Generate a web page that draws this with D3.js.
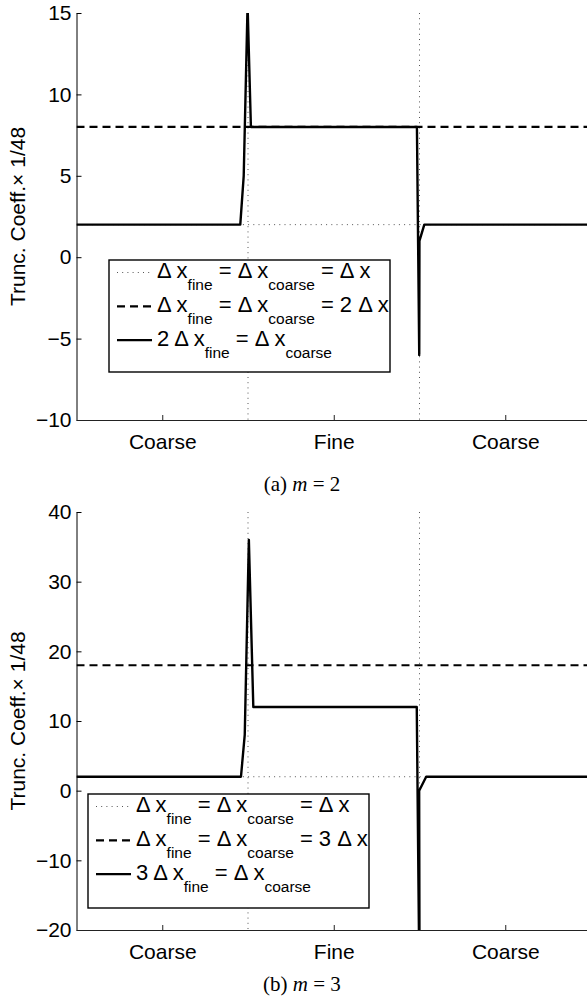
<!DOCTYPE html>
<html>
<head>
<meta charset="utf-8">
<script src="https://cdn.jsdelivr.net/npm/d3@7"></script>
<style>
  body { margin: 0; background: #fff; }
  text { font-family: "Liberation Sans", Arial, sans-serif; }
</style>
</head>
<body>
<svg id="chart" width="587" height="996"></svg>
<script>
// x is in "region" units: coarse [0,1], fine [1,2], coarse [2,3]
const xTickPos = [0.5, 1.5, 2.5];
const xTickLabels = ["Coarse", "Fine", "Coarse"];
const regionBounds = [1, 2];

// panel (a) m = 2
const yTicksA = [-10, -5, 0, 5, 10, 15];
const dottedLevelA = 2;
const dashedLevelA = 8;
const solidXA = [0, 0.955, 0.975, 0.9975, 1.017, 1.985, 1.9985, 1.9997, 2.028, 3];
const solidYA = [2, 2, 5, 15.5, 8, 8, -6, 1, 2, 2];
const legendA = [
  [["Δ x"], ["fine", 1], [" = Δ x"], ["coarse", 1], [" = Δ x"]],
  [["Δ x"], ["fine", 1], [" = Δ x"], ["coarse", 1], [" = 2 Δ x"]],
  [["2 Δ x"], ["fine", 1], [" = Δ x"], ["coarse", 1]]
];

// panel (b) m = 3
const yTicksB = [-20, -10, 0, 10, 20, 30, 40];
const dottedLevelB = 2;
const dashedLevelB = 18;
const solidXB = [0, 0.959, 0.981, 1.005, 1.031, 1.984, 2.0005, 1.998, 2.039, 3];
const solidYB = [2, 2, 8, 36, 12, 12, -30, 0, 2, 2];
const legendB = [
  [["Δ x"], ["fine", 1], [" = Δ x"], ["coarse", 1], [" = Δ x"]],
  [["Δ x"], ["fine", 1], [" = Δ x"], ["coarse", 1], [" = 3 Δ x"]],
  [["3 Δ x"], ["fine", 1], [" = Δ x"], ["coarse", 1]]
];

const svg = d3.select("#chart");
const styles = [
  { dash: "1,4.2", width: 1, color: "#555" },   // dotted
  { dash: "8,5", width: 2.2, color: "#000" },   // dashed
  { dash: null, width: 2.4, color: "#000" }     // solid
];

function drawPanel(p) {
  const x = d3.scaleLinear().domain([0, 3]).range([76.5, 591]);
  const y = d3.scaleLinear().domain(p.yDomain).range([p.bottom, p.top]);
  const g = svg.append("g");

  g.append("clipPath").attr("id", p.id)
    .append("rect")
    .attr("x", x(0)).attr("y", p.top)
    .attr("width", x(3) - x(0)).attr("height", p.bottom - p.top);

  const plot = g.append("g").attr("clip-path", `url(#${p.id})`);

  // region boundaries
  plot.selectAll(".bound").data(regionBounds).join("line")
    .attr("x1", d => x(d)).attr("x2", d => x(d))
    .attr("y1", p.top).attr("y2", p.bottom)
    .attr("stroke", styles[0].color).attr("stroke-width", 1)
    .attr("stroke-dasharray", styles[0].dash);

  const line = d3.line().x(d => x(d[0])).y(d => y(d[1]));

  // dotted: same spacing everywhere
  plot.append("path").datum([[0, p.dotted], [3, p.dotted]])
    .attr("d", line).attr("fill", "none")
    .attr("stroke", styles[0].color).attr("stroke-width", styles[0].width)
    .attr("stroke-dasharray", styles[0].dash);

  // dashed: same (doubled/tripled) spacing everywhere
  plot.append("path").datum([[0, p.dashed], [3, p.dashed]])
    .attr("d", line).attr("fill", "none")
    .attr("stroke", styles[1].color).attr("stroke-width", styles[1].width)
    .attr("stroke-dasharray", styles[1].dash);

  // solid: refined middle region
  plot.append("path").datum(p.solidX.map((v, i) => [v, p.solidY[i]]))
    .attr("d", line).attr("fill", "none")
    .attr("stroke", styles[2].color).attr("stroke-width", styles[2].width)
    .attr("stroke-linejoin", "round");

  // axes
  const ya = g.append("g").attr("transform", `translate(${x(0)},0)`)
    .call(d3.axisLeft(y).tickValues(p.yTicks).tickSize(-5).tickSizeOuter(0).tickPadding(5));
  ya.attr("font-size", 21);
  ya.select(".domain").attr("stroke", "#000");
  ya.selectAll(".tick line").attr("stroke", "#000");

  const xa = g.append("g").attr("transform", `translate(0,${p.bottom})`)
    .call(d3.axisBottom(x).tickValues(xTickPos).tickFormat((d, i) => xTickLabels[i])
      .tickSize(-5).tickSizeOuter(0).tickPadding(14));
  xa.attr("font-size", 21);
  xa.select(".domain").attr("stroke", "#222");
  xa.selectAll(".tick line").attr("stroke", "#222");

  // y label
  g.append("text")
    .attr("transform", `translate(25,${(p.top + p.bottom) / 2}) rotate(-90)`)
    .attr("text-anchor", "middle").attr("font-size", 21)
    .text("Trunc. Coeff.× 1/48");

  // legend
  const lg = g.append("g").attr("transform", `translate(${p.legX},${p.legY})`);
  lg.append("rect").attr("width", 281).attr("height", p.legH)
    .attr("fill", "#fff").attr("stroke", "#000").attr("stroke-width", 1.4);
  p.legend.forEach((parts, i) => {
    const sy = 12.5 + i * 33.8;
    const s = styles[i];
    lg.append("line").attr("x1", 8).attr("x2", 43).attr("y1", sy).attr("y2", sy)
      .attr("stroke", s.color).attr("stroke-width", s.width)
      .attr("stroke-dasharray", s.dash);
    const t = lg.append("text").attr("x", 48).attr("y", sy + 5.5)
      .attr("font-size", 22).style("white-space", "pre");
    let low = false;
    parts.forEach(pt => {
      const sub = pt[1] === 1;
      const ts = t.append("tspan").text(pt[0]);
      if (sub) ts.attr("font-size", 15.5);
      if (sub && !low) ts.attr("dy", 12);
      if (!sub && low) ts.attr("dy", -12);
      low = sub;
    });
  });

  // caption
  const cap = g.append("text").attr("x", 302).attr("y", p.capY)
    .attr("text-anchor", "middle").attr("font-size", 21)
    .style("font-family", "'Liberation Serif', 'Times New Roman', serif")
    .style("white-space", "pre");
  cap.append("tspan").text(p.capLetter + " ");
  cap.append("tspan").attr("font-style", "italic").text("m");
  cap.append("tspan").text(" = " + p.m);
}

drawPanel({
  id: "clipA", top: 13, bottom: 420, yDomain: [-10, 15], yTicks: yTicksA,
  dotted: dottedLevelA, dashed: dashedLevelA, solidX: solidXA, solidY: solidYA,
  legend: legendA, legX: 109, legY: 260, legH: 112,
  capY: 491, capLetter: "(a)", m: 2
});
drawPanel({
  id: "clipB", top: 512, bottom: 930, yDomain: [-20, 40], yTicks: yTicksB,
  dotted: dottedLevelB, dashed: dashedLevelB, solidX: solidXB, solidY: solidYB,
  legend: legendB, legX: 88, legY: 794, legH: 114,
  capY: 991, capLetter: "(b)", m: 3
});
</script>
</body>
</html>
